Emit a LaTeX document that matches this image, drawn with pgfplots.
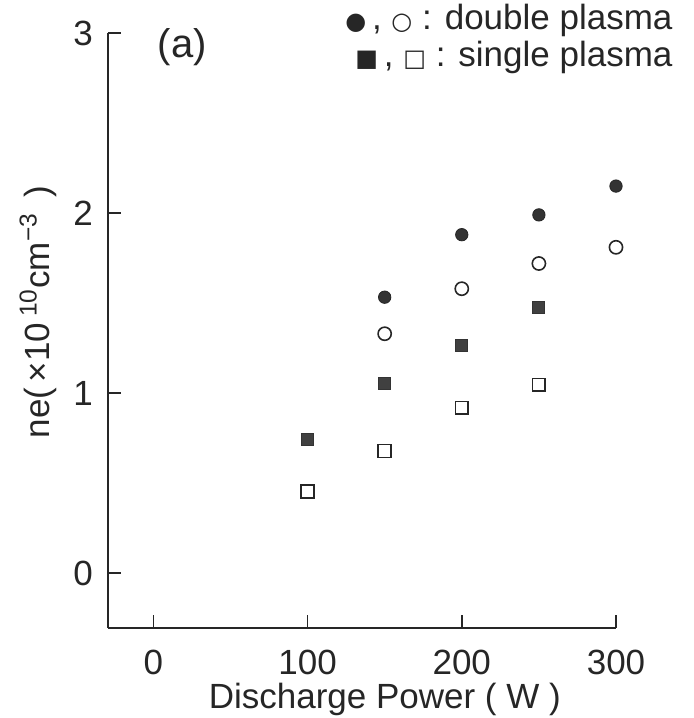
\documentclass[border=0pt]{standalone}
\usepackage{fontspec}
\setmainfont{Liberation Sans}
\newfontfamily\sym{DejaVu Sans}
\usepackage{pgfplots}
\pgfplotsset{compat=1.18}
\begin{document}
\begin{tikzpicture}
\begin{axis}[
  scale only axis,
  width=254pt, height=297.5pt,
  xmin=-29.4, xmax=300, ymin=-0.304, ymax=3,
  axis x line=bottom, axis y line=left,
  axis line style={-, line width=0.8pt, black!85},
  xtick={0,100,200,300}, ytick={0,1,2,3},
  tick align=inside,
  major tick length=6.5pt,
  tick style={line width=0.8pt, black!85},
  /pgf/number format/assume math mode=true,
  tick label style={font=\fontsize{17.5}{20}\selectfont, text=black!85},
  xticklabel style={inner sep=1pt, yshift=-10pt},
  yticklabel style={xshift=-4pt},
  xlabel={Discharge Power ( W )},
  xlabel style={font=\fontsize{17.5}{20}\selectfont, text=black!85, inner sep=0pt, at={(axis description cs:0.545,0)}, anchor=north, yshift=-27.5pt},
  ylabel={ne(\,×10\,\textsuperscript{10}cm\textsuperscript{−3}\, )},
  ylabel style={font=\fontsize{17.5}{20}\selectfont, text=black!85, at={(axis description cs:-0.138,0.531)}, anchor=center},
  clip=false,
]
\addplot[only marks, mark=*, mark size=3.1pt, color=black!85, mark options={fill=black!80}]
  coordinates {(150,1.533) (200,1.88) (250,1.99) (300,2.15)};
\addplot[only marks, mark=o, mark size=3.3pt, color=black!85, mark options={line width=0.8pt, fill=white}]
  coordinates {(150,1.33) (200,1.58) (250,1.72) (300,1.81)};
\addplot[only marks, mark=square*, mark size=3pt, color=black!80, mark options={fill=black!75}]
  coordinates {(100,0.745) (150,1.054) (200,1.267) (250,1.476)};
\addplot[only marks, mark=square, mark size=3.2pt, color=black!85, mark options={line width=0.8pt, fill=white}]
  coordinates {(100,0.455) (150,0.679) (200,0.919) (250,1.047)};
\node[font=\fontsize{20}{24}\selectfont, text=black!85, anchor=center] at (rel axis cs:0.146,0.976) {(a)};
\node[font=\fontsize{17.5}{20}\selectfont, text=black!85, anchor=base east, inner sep=0pt] at (rel axis cs:1.112,1.006)
  {{\sym\fontsize{12}{12}\selectfont ●}\,, {\sym\fontsize{12}{12}\selectfont ○} : double plasma};
\node[font=\fontsize{17.5}{20}\selectfont, text=black!85, anchor=base east, inner sep=0pt] at (rel axis cs:1.112,0.944)
  {{\sym\fontsize{12}{12}\selectfont ■}\,, {\sym\fontsize{12}{12}\selectfont □} : single plasma};
\end{axis}
\pgfresetboundingbox
\path[use as bounding box] (-54pt,-45pt) rectangle (293pt,314pt);
\end{tikzpicture}
\end{document}
